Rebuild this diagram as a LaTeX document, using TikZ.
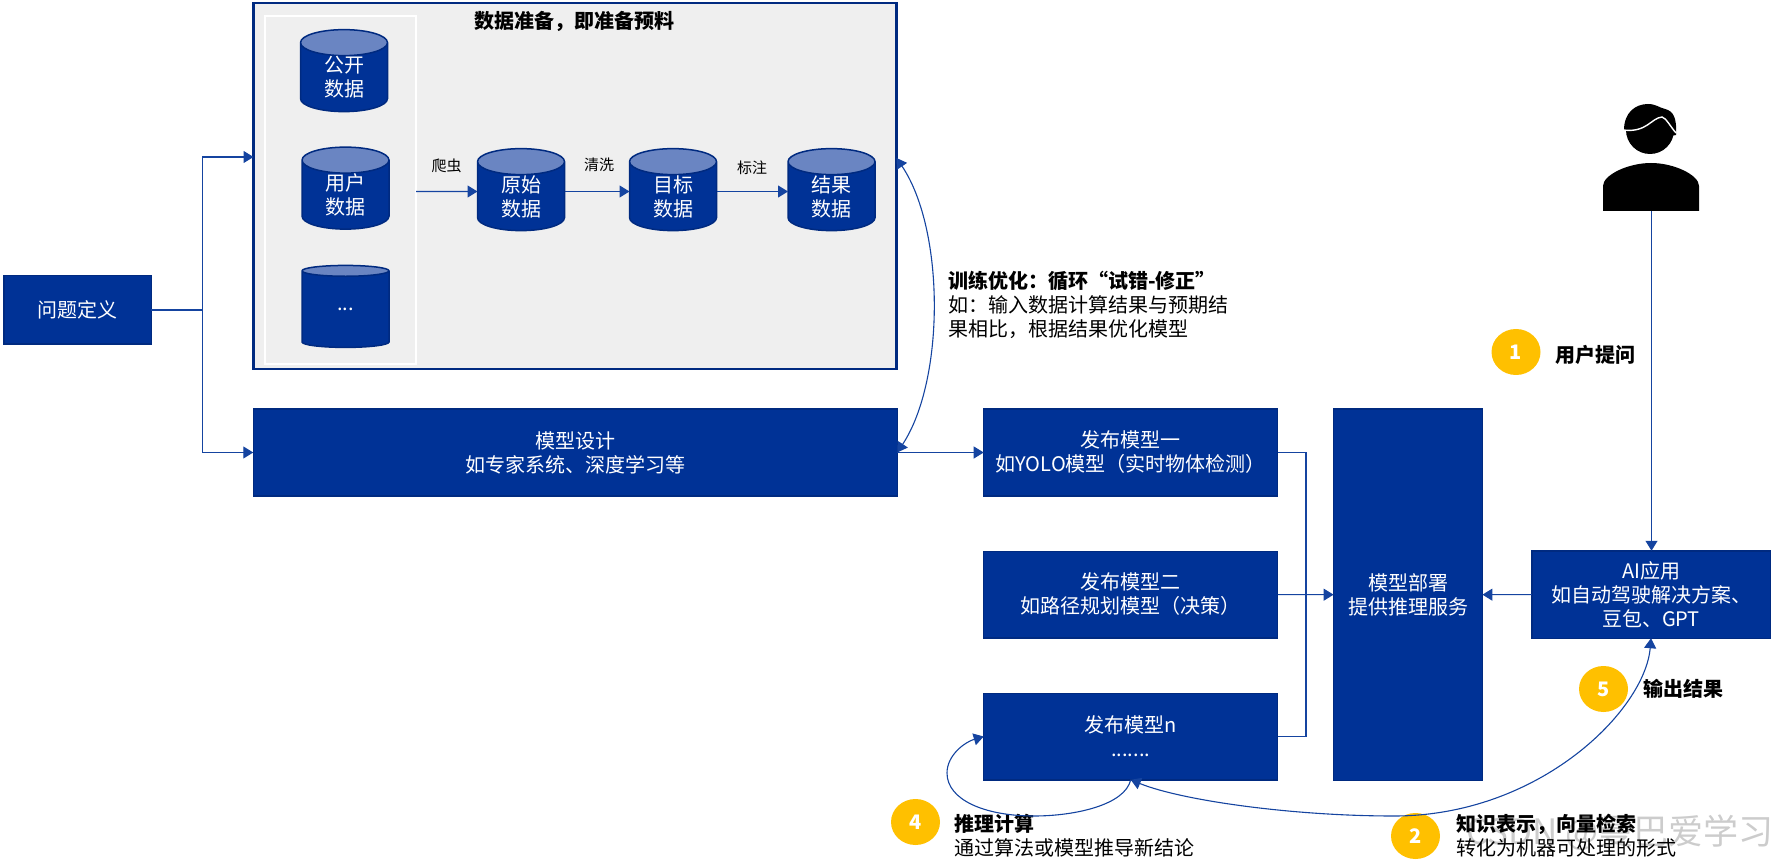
\documentclass[tikz,border=0pt]{standalone}
\usepackage{fontspec}
\setmainfont{Noto Sans CJK SC}
\usepackage{tikz}
\usetikzlibrary{arrows.meta,positioning,shapes.geometric}
\definecolor{navy}{HTML}{003296}
\definecolor{navyedge}{HTML}{002A80}
\definecolor{capblue}{HTML}{6A85C2}
\definecolor{panelgray}{HTML}{EFEFEF}
\definecolor{badgeyellow}{HTML}{FFC000}
\definecolor{linkblue}{HTML}{1544A0}

\begin{document}
\begin{tikzpicture}[
  x=1pt, y=-1pt,
  >={Triangle[length=10pt,width=12pt]},
  every node/.style={outer sep=0pt},
  font=\fontsize{20}{24}\selectfont,
  bluebox/.style={rectangle, draw=navyedge, fill=navy, line width=1.5pt, text=white, align=center},
  modelbox/.style={bluebox, minimum width=294pt, minimum height=86.5pt},
  database/.style={cylinder, shape border rotate=90, aspect=0.65, draw=navyedge, line width=1.5pt, cylinder uses custom fill, cylinder body fill=navy, cylinder end fill=capblue, minimum width=87pt, minimum height=82pt, text=white, align=center, inner xsep=0pt, inner ysep=-2pt},
  badge/.style={ellipse, fill=badgeyellow, text=white, minimum width=49pt, minimum height=46pt, inner sep=0pt, font=\fontsize{20}{24}\selectfont\bfseries},
  note/.style={align=left, inner sep=0pt, text=black},
  edgetag/.style={inner sep=0pt, font=\fontsize{15}{18}\selectfont},
  link/.style={draw=linkblue, line width=1.1pt},
]
\useasboundingbox (0,0) rectangle (1775,866);

\node[bluebox, minimum width=147.5pt, minimum height=68.5pt] (problem) at (77.5,310) {问题定义};

\node[rectangle, draw=navyedge, fill=panelgray, line width=2.2pt, minimum width=643pt, minimum height=366pt] (dataprep) at (575,186) {};
\node[rectangle, draw=white, fill=panelgray, line width=2pt, minimum width=151pt, minimum height=348pt] (sources) at (340.5,190) {};
\node[font=\fontsize{20}{24}\selectfont\bfseries, inner sep=0pt] (datatitle) at (574,21) {数据准备，即准备预料};

\node[database] (publicdata) at (344,77.5) {公开\\数据};
\node[database] (userdata) at (345.5,195) {用户\\数据};
\node[database] (otherdata) at (345.5,309.5) {...};
\node[database] (rawdata) at (521,196.5) {原始\\数据};
\node[database, right=65pt of rawdata] (targetdata) {目标\\数据};
\node[database, right=71.5pt of targetdata] (resultdata) {结果\\数据};

\node[edgetag] (crawltag) at (446.5,165.5) {爬虫};
\node[edgetag] (cleantag) at (599,165) {清洗};
\node[edgetag] (marktag) at (752,168) {标注};

\node[bluebox, minimum width=644pt, minimum height=86.5pt] (design) at (575.25,452.5) {模型设计\\如专家系统、深度学习等};

\node[modelbox] (modelone) at (1130.7,452.5) {发布模型一\\如YOLO模型（实时物体检测）};
\node[modelbox, below=55.5pt of modelone] (modeltwo) {发布模型二\\如路径规划模型（决策）};
\node[modelbox, below=55.5pt of modeltwo] (modeln) {发布模型n\\.......};

\node[bluebox, minimum width=148.8pt, minimum height=371pt] (deploy) at (1408,594.75) {模型部署\\提供推理服务};
\node[bluebox, minimum width=238.5pt, minimum height=87.5pt] (aiapp) at (1651,594.5) {AI应用\\如自动驾驶解决方案、\\豆包、GPT};

\fill (1650,130) circle (24);
\fill (1624,130) .. controls (1624,112) and (1636,104) .. (1648,104) .. controls (1656,104) and (1660,108) .. (1665,109) .. controls (1673,111) and (1677,117) .. (1676,135) -- (1650,140) -- cycle;
\draw[white, line width=1.4pt] (1623,130) .. controls (1647,133) and (1651,118) .. (1662,117) .. controls (1666,118) and (1670,126) .. (1676,133);
\fill (1603,211) -- (1603,186) .. controls (1603,175) and (1628,163) .. (1651,163) .. controls (1674,163) and (1699,175) .. (1699,186) -- (1699,211) -- cycle;
\coordinate (usercorner) at (1651.5,211);

\node[inner sep=0pt, text=black!20, font=\fontsize{35}{40}\selectfont] (stamp) at (1620,833) {CSDN @曼巴爱学习};

\node[badge] (badgeone) at (1516,352) {1};
\node[note, font=\fontsize{20}{24}\selectfont\bfseries, right=15pt of badgeone, yshift=-3pt] (asktext) {用户提问};
\node[badge] (badgetwo) at (1415.5,836) {2};
\node[note, right=16.5pt of badgetwo] (knowtext) {\textbf{知识表示，向量检索}\\转化为机器可处理的形式};
\node[badge] (badgefour) at (915.5,822) {4};
\node[note, right=14pt of badgefour, yshift=-14pt] (infertext) {\textbf{推理计算}\\通过算法或模型推导新结论};
\node[badge] (badgefive) at (1603.5,689) {5};
\node[note, font=\fontsize{20}{24}\selectfont\bfseries, right=15pt of badgefive] (outtext) {输出结果};
\node[note, anchor=west] (traintext) at (948,305) {\textbf{训练优化：循环“试错-修正”}\\如：输入数据计算结果与预期结\\果相比，根据结果优化模型};

\coordinate (branch) at (202.5,310);
\draw[link] (problem) -- (branch);
\draw[link, ->] (branch) |- ([yshift=29pt]dataprep.west);
\draw[link, ->] (branch) |- (design.west);
\draw[link, ->] (sources.east |- 0,191.5) -- ([yshift=5pt]rawdata.west);
\draw[link, ->] ([yshift=5pt]rawdata.east) -- ([yshift=5pt]targetdata.west);
\draw[link, ->] ([yshift=5pt]targetdata.east) -- ([yshift=5pt]resultdata.west);
\draw[link, ->] (design) -- (modelone);
\draw[link, <->] ([yshift=28pt]dataprep.east) .. controls (945,230) and (945,380) .. (design.east);
\draw[link] (modelone.east) -| (1306,594.5);
\draw[link] (modeln.east) -| (1306,594.5);
\draw[link, ->] (modeltwo) -- (deploy);
\draw[link, ->] (aiapp) -- (deploy);
\draw[link, ->] (usercorner) -- (usercorner |- aiapp.north);
\draw[link, ->] (modeln.south) .. controls (1125,805) and (1075,816) .. (1034,816) .. controls (985,816) and (947,800) .. (947,773) .. controls (947,755) and (965,742) .. (modeln.west);
\draw[link, <->] (modeln.south) .. controls (1180,800) and (1290,816) .. (1394,816) .. controls (1540,816) and (1645,710) .. (aiapp.south);
\end{tikzpicture}
\end{document}
